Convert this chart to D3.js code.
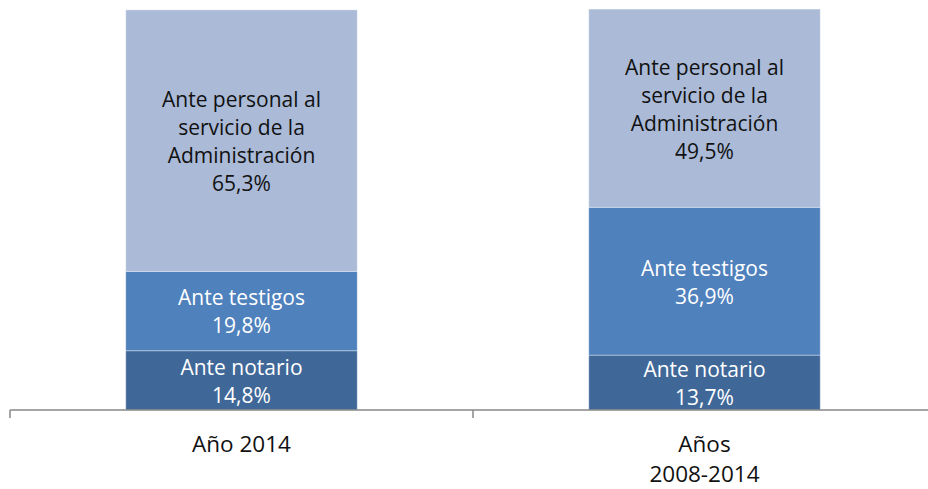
<!DOCTYPE html>
<html>
<head>
<meta charset="utf-8">
<script src="https://cdn.jsdelivr.net/npm/d3@7"></script>
<style>
  html, body { margin: 0; padding: 0; background: #fff; }
  svg { display: block; }
  text { font-family: "Open Sans", sans-serif; }
</style>
</head>
<body>
<div id="chart"></div>
<script>
const categories = ["Año 2014", "Años 2008-2014"];
const categoryLines = [["Año 2014"], ["Años", "2008-2014"]];

const seriesKeys = ["notario", "testigos", "personal"];
const seriesLines = {
    notario: ["Ante notario"],
    testigos: ["Ante testigos"],
    personal: ["Ante personal al", "servicio de la", "Administración"]
};
const notario = [14.8, 13.7];
const testigos = [19.8, 36.9];
const personal = [65.3, 49.5];

const colors = { notario: "#3f6898", testigos: "#4f81bd", personal: "#aabad7" };
const labelColors = { notario: "#ffffff", testigos: "#ffffff", personal: "#111111" };

const width = 928;
const height = 489;

const rows = categories.map((c, i) => ({
    category: c,
    notario: notario[i],
    testigos: testigos[i],
    personal: personal[i]
}));

const svg = d3.select("#chart")
    .append("svg")
    .attr("width", width)
    .attr("height", height);

const x = d3.scaleBand()
    .domain(categories)
    .range([10, 936])
    .paddingInner(0.5)
    .paddingOuter(0.25);

const y = d3.scaleLinear()
    .domain([0, 100])
    .range([410, 9.5]);

const stacked = d3.stack().keys(seriesKeys)(rows);

const layers = svg.selectAll(".layer")
    .data(stacked)
    .enter()
    .append("g")
    .attr("class", "layer");

layers.selectAll("rect")
    .data(d => d.map(p => ({ key: d.key, p })))
    .enter()
    .append("rect")
    .attr("x", d => x(d.p.data.category))
    .attr("width", x.bandwidth())
    .attr("y", d => y(d.p[1]))
    .attr("height", d => y(d.p[0]) - y(d.p[1]))
    .attr("fill", d => colors[d.key])
    .attr("stroke", "rgba(255,255,255,0.35)")
    .attr("stroke-width", 1);

// segment labels
const lineH = 28;
layers.selectAll(".seg-label")
    .data(d => d.map(p => ({ key: d.key, p })))
    .enter()
    .append("text")
    .attr("class", "seg-label")
    .attr("text-anchor", "middle")
    .style("font-size", "21px")
    .attr("fill", d => labelColors[d.key])
    .each(function(d) {
        const lines = seriesLines[d.key].concat([
            (d.p[1] - d.p[0]).toFixed(1).replace(".", ",") + "%"
        ]);
        const cx = x(d.p.data.category) + x.bandwidth() / 2;
        const cy = (y(d.p[0]) + y(d.p[1])) / 2 + 1;
        const top = cy - (lines.length - 1) * lineH / 2;
        d3.select(this).selectAll("tspan")
            .data(lines)
            .enter()
            .append("tspan")
            .attr("x", cx)
            .attr("y", (l, i) => top + i * lineH)
            .attr("dy", "0.35em")
            .text(l => l);
    });

// axis
const axisY = y(0);
const step = x.step();
const tickXs = d3.range(categories.length + 1).map(i => x.range()[0] + i * step);

svg.append("line")
    .attr("x1", x.range()[0])
    .attr("x2", x.range()[1])
    .attr("y1", axisY)
    .attr("y2", axisY)
    .attr("stroke", "#878787")
    .attr("stroke-width", 1.5);

svg.selectAll(".tick")
    .data(tickXs)
    .enter()
    .append("line")
    .attr("class", "tick")
    .attr("x1", d => d)
    .attr("x2", d => d)
    .attr("y1", axisY)
    .attr("y2", axisY + 8)
    .attr("stroke", "#878787")
    .attr("stroke-width", 1.5);

svg.selectAll(".cat-label")
    .data(categories)
    .enter()
    .append("text")
    .attr("class", "cat-label")
    .attr("text-anchor", "middle")
    .style("font-size", "22.5px")
    .attr("fill", "#111111")
    .each(function(c, i) {
        const cx = x(c) + x.bandwidth() / 2;
        d3.select(this).selectAll("tspan")
            .data(categoryLines[i])
            .enter()
            .append("tspan")
            .attr("x", cx)
            .attr("y", (l, j) => 452 + j * 29.5)
            .text(l => l);
    });
</script>
</body>
</html>
